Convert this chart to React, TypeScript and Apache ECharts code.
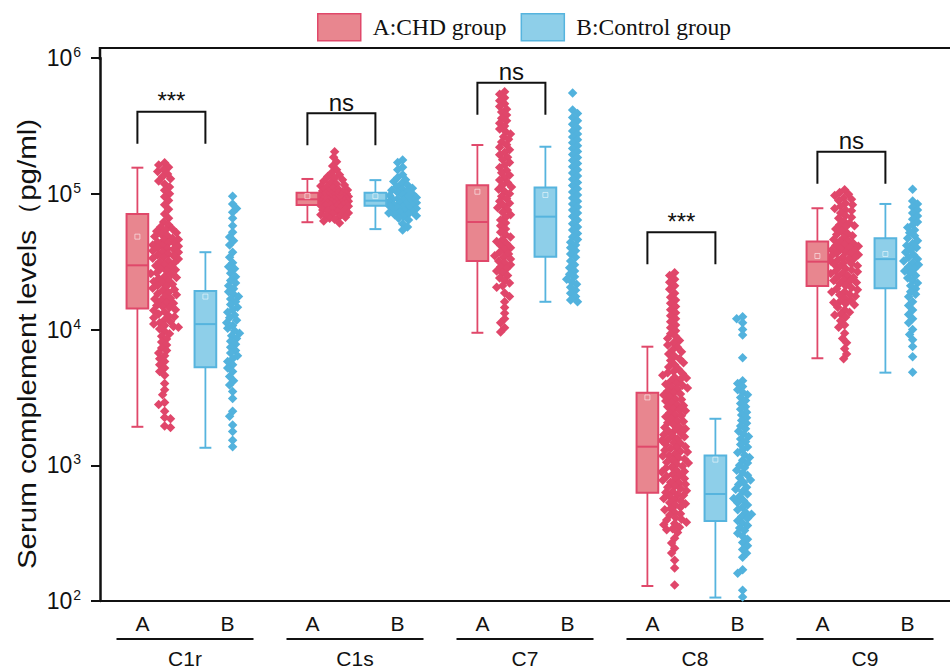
import React, { useEffect, useRef } from "react";
import * as echarts from "echarts";

// ---------- data ----------
const GROUPS = ["C1r", "C1s", "C7", "C8", "C9"];
const MEMBERS = ["A", "B"];
const SERIES_NAMES = ["A:CHD group", "B:Control group"];
const Y_TITLE = "Serum complement levels（pg/ml)";
const SIG_LABELS = ["***", "ns", "ns", "***", "ns"];
const SIG_Y = [402000, 391000, 658000, 52000, 204000];

// [low whisker, Q1, median, Q3, high whisker, mean]
const BOX_A = [
  [1920, 14300, 29700, 71000, 155600, 48300],
  [61700, 82600, 91000, 101900, 128500, 96100],
  [9460, 32000, 61900, 115400, 228500, 103500],
  [129, 628, 1370, 3420, 7470, 3160],
  [6140, 20900, 31600, 44400, 78200, 34800],
];
const BOX_B = [
  [1345, 5270, 10960, 19200, 37100, 17470],
  [54900, 81600, 88900, 101900, 126000, 96000],
  [16000, 34400, 67800, 111000, 222000, 98000],
  [106, 388, 614, 1178, 2200, 1100],
  [4810, 20100, 33000, 47000, 84100, 36000],
];

const C1R_A = [
  169000, 163000, 157000, 151000, 146000, 140000, 134000, 129000, 124000, 118000, 112000, 106000, 100000, 95000, 89000, 83000, 77000, 71000, 66000, 62000,
  59000, 57000, 55000, 54000, 53000, 51500, 50000, 49000, 48500, 47000, 46000, 45500, 44000, 43500, 43000, 42000, 41500, 41000, 40000, 39500, 39000, 38000, 37500, 37000, 36000, 35500, 35000, 34000, 33500, 33000, 32000, 31500, 31000, 30000, 29500, 29000, 28000, 27500, 27000, 26200, 25800, 25400, 24600, 24200, 23800, 23000, 22600, 22200, 21500, 21000, 20800, 20100, 19700, 19400, 18700, 18300, 18000, 17400, 17000, 16800, 16200, 15800, 15600, 15000, 14800, 14500, 14000, 13800, 13500, 13000, 12600, 12400, 12200, 11800, 11400, 11200, 11000, 10700, 10500, 10400, 10100,
  9700, 9300, 8900, 8500, 8100, 7700, 7300, 7000, 6700, 6400, 6100, 5800, 5500, 5200, 4900, 4600,
  4000, 3600, 3300, 2900, 2800, 2500, 2250, 2200, 1950, 1900,
];
const C1R_B = [
  96000, 84000, 78000, 73000, 66000, 58000, 52000, 48000, 45000, 42000, 37000, 34000, 31000, 29000, 28000, 26000, 24500, 23000, 22000, 21000,
  20000, 19000, 18200, 17500, 16800, 16000, 15300, 14600, 14000, 13400, 12800, 12200, 11700, 11200, 10700, 10200, 9800, 9400, 9000, 8600,
  8200, 7800, 7400, 7000, 6700, 6400, 6100, 5800, 5500, 5200, 4900, 4500, 4200, 3900, 3500, 3100, 2500, 2300, 1980, 1770, 1530, 1370,
];
const C1S_A = [
  204000, 186000, 172000, 160000, 150000, 143000, 138000, 134000, 130000, 127000, 124000, 121000, 118000, 116000, 114000, 112000, 110000, 108000, 106500, 105000,
  104000, 103500, 102000, 101500, 101000, 100000, 99500, 99000, 98000, 97500, 97000, 96500, 96000, 95500, 95000, 94500, 94000, 93500, 93000, 92500,
  92000, 91500, 91000, 90500, 90000, 89500, 89000, 88500, 88000, 87500, 87000, 86500, 86000, 85500, 85000, 84500, 84000, 83500, 83000, 82500,
  82000, 81500, 81000, 80000, 79000, 78000, 77000, 76000, 75000, 74000, 73000, 72000, 71000, 70000, 69000, 68000, 67000, 66000, 65000, 63000, 61000,
];
const C1S_B = [
  177000, 170000, 157000, 150000, 138000, 132000, 127000, 123000, 119000, 116000, 113000, 110000, 108000, 106000, 104000, 102000, 100000, 98000, 97000, 95000,
  94000, 92000, 91000, 90000, 88000, 87000, 86000, 85000, 84000, 83000, 82000, 81000, 80000, 79000, 78000, 77000, 76000, 75000, 74000, 73000,
  72000, 71000, 70000, 69000, 68000, 66000, 64000, 60000, 57000, 54000,
];
const C7_A = [
  565000, 540000, 510000, 485000, 460000, 440000, 420000, 400000, 380000, 360000, 345000, 330000, 315000, 300000, 287000, 275000, 263000, 252000, 241000, 230000,
  220000, 211000, 202000, 194000, 186000, 178000, 170000, 163000, 156000, 149000, 143000,
  137000, 131000, 126000, 121000, 116000, 112000, 108000, 104000, 100000, 96000, 92000, 88000, 85000, 82000, 79000, 76000, 73000, 70000, 67000, 64000, 61000, 58000, 55000, 52000,
  50000, 48000, 46000, 44500, 43000, 41500, 40000, 38500, 37000, 36000, 35000, 34000, 33000, 32000, 31000, 30000, 29000, 28000, 27000, 26000, 25000, 24000, 23000, 22000, 21000, 20500,
  18600, 17500, 16000, 14500, 13200, 12000, 11200, 10300, 9600,
];
const C7_B = [
  552000, 414000, 390000, 365000, 345000, 325000, 305000, 290000, 275000, 262000, 250000, 238000, 226000, 215000, 205000, 195000, 185000, 176000, 167000, 158000,
  150000, 142000, 135000, 128000, 121000, 115000, 109000, 103000, 98000, 93000, 88000, 84000, 80000, 76000, 72000, 68000, 64000, 60000, 57000, 54000,
  51000, 48000, 46000, 44000, 42000, 40000, 38000, 36000, 34000, 32000, 30000, 28500, 27000, 25500, 24500, 23500, 22500, 21500, 20500, 19500, 18500, 17500, 16500, 16000,
];
const C8_A = [
  26200, 25000, 23500, 22300, 21000, 19800, 18500, 17300, 16500, 15600, 14800, 14000, 13300, 12600, 12000, 11400, 10800, 10300, 9800, 9300,
  8900, 8600, 8300, 8000, 7700, 7400, 7100, 6850, 6600, 6350, 6100, 5900, 5700, 5500, 5300, 5100, 4900, 4800, 4750, 4600, 4450, 4400, 4300, 4150, 4000, 3950,
  3880, 3760, 3700, 3640, 3520, 3400, 3350, 3290, 3180, 3080, 3050, 2980, 2880, 2790, 2750, 2700, 2610, 2550, 2520, 2440, 2360, 2320, 2280, 2200, 2130, 2100,
  2060, 1990, 1920, 1900, 1860, 1800, 1780, 1740, 1680, 1650, 1620, 1570, 1550, 1520, 1470, 1450, 1420, 1370, 1350, 1330, 1290, 1260, 1250, 1210, 1180, 1170,
  1130, 1110, 1090, 1050, 1040, 1020, 985, 970, 950, 920, 900, 890, 860, 845, 830, 800, 790, 775, 750, 740, 725, 700, 690, 675, 650, 640, 630, 610, 600,
  590, 570, 560, 550, 530, 520, 510, 490, 480, 470, 450, 440, 430, 410, 400, 395, 380, 372, 365, 350, 340, 335, 320,
  290, 267, 245, 226, 200, 175, 131,
];
const C8_B = [
  12400, 12000, 11200, 10000, 9100, 6200, 4200, 4000, 3800, 3600, 3450, 3300, 3150, 3000, 2850, 2700, 2580, 2460, 2350, 2240,
  2140, 2040, 1950, 1860, 1780, 1700, 1630, 1560, 1490, 1420, 1360, 1300, 1240, 1190, 1140, 1090, 1040, 1000, 960, 920,
  880, 845, 810, 780, 750, 720, 690, 665, 640, 615, 590, 570, 550, 530, 510, 490, 470, 450, 435, 420,
  405, 390, 375, 360, 345, 330, 315, 300, 285, 270, 255, 240, 225, 210, 170, 160, 120, 107,
];
const C9_A = [
  107000, 102000, 99000, 97000, 93000, 91000, 89000, 85000, 83000, 81000, 78000, 76000, 75000, 72000, 69000, 67000, 66000, 63000, 61000, 59000,
  58000, 57000, 55000, 53000, 51000, 50000, 49000, 47500, 46000, 45000, 44500, 43000, 42000, 41500, 41000, 40000, 39000, 38500, 38000, 37000,
  36500, 36000, 35500, 35000, 34000, 33500, 33000, 32500, 32000, 31000, 30500, 30000, 29500, 29000, 28200, 27400, 27000, 26600, 26000, 25800,
  25000, 24600, 24200, 23400, 23000, 22600, 22200, 21800, 21000, 20300, 20000, 19600, 19000, 18900, 18200, 18000, 17600, 17000, 16400, 16000,
  15800, 15500, 15200, 14600, 14000, 13400, 13000, 12800, 12300, 11600, 10800, 10400, 9400, 8600, 8000, 7200, 6600, 6100,
];
const C9_B = [
  108000, 88600, 84000, 80000, 76000, 72000, 68500, 65000, 62000, 59000, 56500, 54000, 51500, 49000, 47000, 45000, 43000, 41500, 40000, 38500,
  37000, 35500, 34000, 33000, 32000, 31000, 30000, 29000, 28000, 27000, 26000, 25000, 24000, 23000, 22000, 21000, 20000, 19000, 18200, 17400,
  16000, 15000, 13900, 12900, 12000, 11200, 10000, 9200, 8400, 7500, 6300, 4850,
];

const POINTS = [
  [C1R_A, C1S_A, C7_A, C8_A, C9_A],
  [C1R_B, C1S_B, C7_B, C8_B, C9_B],
];
const BOXES = [BOX_A, BOX_B];

// ---------- layout / style ----------
const SANS = 'Arial, "Liberation Sans", Helvetica, sans-serif';
const SERIF = '"Times New Roman", "Liberation Serif", serif';
const INK = "#111111";
const COLORS = [
  { fill: "#e8868f", line: "#e0486a", dot: "#e0466a" },
  { fill: "#8ecfe9", line: "#56b4de", dot: "#52b2dd" },
];
const MEMBER_OFF = [-0.06, 0.74];
const SCATTER_SHIFT = 0.32;
const BOX_W = 0.255;
const CAP_W = 0.14;
const PX_PER_UNIT = 86.2;
const PX_PER_DECADE = 135.75;
const BRACKET_LEG = 32;

function swarm(values: number[], center: number): number[][] {
  const D = 5.5;
  const MAXOFF = 14;
  const pts = values
    .map((v) => ({ v, y: Math.log10(v) * PX_PER_DECADE }))
    .sort((a, b) => b.y - a.y);
  const placed: { x: number; y: number }[] = [];
  const out: number[][] = [];
  pts.forEach((p, i) => {
    const cands = [0];
    for (let k = 1; k <= MAXOFF; k++) {
      if (i % 2) cands.push(-k, k);
      else cands.push(k, -k);
    }
    let best = 0;
    let bestScore = -1;
    for (const c of cands) {
      let minD = Infinity;
      for (let j = placed.length - 1; j >= 0; j--) {
        const q = placed[j];
        if (q.y - p.y > D) break;
        const d = Math.hypot(q.x - c, q.y - p.y);
        if (d < minD) minD = d;
      }
      if (minD >= D) {
        best = c;
        bestScore = Infinity;
        break;
      }
      if (minD > bestScore) {
        bestScore = minD;
        best = c;
      }
    }
    placed.push({ x: best, y: p.y });
    out.push([center + best / PX_PER_UNIT, p.v]);
  });
  return out;
}

const makeBoxRender = (m: number) => (params: any, api: any) => {
  const x = api.value(0);
  const low = api.value(1);
  const q1 = api.value(2);
  const med = api.value(3);
  const q3 = api.value(4);
  const high = api.value(5);
  const mean = api.value(6);
  const c = api.coord;
  const cx = c([x, med])[0];
  const hw = c([x + BOX_W / 2, med])[0] - cx;
  const cw = c([x + CAP_W / 2, med])[0] - cx;
  const yLow = c([x, low])[1];
  const yQ1 = c([x, q1])[1];
  const yMed = c([x, med])[1];
  const yQ3 = c([x, q3])[1];
  const yHigh = c([x, high])[1];
  const yMean = c([x, mean])[1];
  const col = COLORS[m];
  return {
    type: "group",
    children: [
      { type: "line", shape: { x1: cx, y1: yHigh, x2: cx, y2: yLow }, style: { stroke: col.line, lineWidth: 1.8 } },
      { type: "line", shape: { x1: cx - cw, y1: yHigh, x2: cx + cw, y2: yHigh }, style: { stroke: col.line, lineWidth: 2 } },
      { type: "line", shape: { x1: cx - cw, y1: yLow, x2: cx + cw, y2: yLow }, style: { stroke: col.line, lineWidth: 2 } },
      {
        type: "rect",
        shape: { x: cx - hw, y: yQ3, width: 2 * hw, height: yQ1 - yQ3 },
        style: { fill: col.fill, stroke: col.line, lineWidth: 2 },
      },
      { type: "line", shape: { x1: cx - hw, y1: yMed, x2: cx + hw, y2: yMed }, style: { stroke: col.line, lineWidth: 2 } },
      {
        type: "rect",
        shape: { x: cx - 2.5, y: yMean - 2.5, width: 5, height: 5 },
        style: { fill: "none", stroke: "rgba(255,255,255,0.55)", lineWidth: 1 },
      },
    ],
  };
};

const bracketRender = (params: any, api: any) => {
  const g = params.dataIndex;
  const y = api.value(2);
  const p1 = api.coord([api.value(0), y]);
  const p2 = api.coord([api.value(1), y]);
  return {
    type: "group",
    children: [
      {
        type: "polyline",
        shape: {
          points: [
            [p1[0], p1[1] + BRACKET_LEG],
            [p1[0], p1[1]],
            [p2[0], p2[1]],
            [p2[0], p2[1] + BRACKET_LEG],
          ],
        },
        style: { stroke: INK, lineWidth: 2, fill: null },
      },
      {
        type: "text",
        style: {
          x: (p1[0] + p2[0]) / 2,
          y: p1[1] + 1,
          text: SIG_LABELS[g],
          fill: INK,
          fontSize: 24,
          fontFamily: SANS,
          align: "center",
          verticalAlign: "bottom",
        },
      },
    ],
  };
};

export default function App() {
  const ref = useRef<HTMLDivElement>(null);

  useEffect(() => {
    if (!ref.current) return;
    const chart = echarts.init(ref.current, undefined, { renderer: "svg" });

    const categoryData = GROUPS.flatMap((g) => MEMBERS.map((m) => g + " " + m));

    const boxSeries = [0, 1].map((m) => ({
      type: "custom",
      name: SERIES_NAMES[m],
      xAxisIndex: 1,
      z: 3,
      silent: true,
      encode: { x: 0, y: [1, 2, 3, 4, 5] },
      renderItem: makeBoxRender(m),
      data: BOXES[m].map((s, g) => [2 * g + MEMBER_OFF[m], ...s]),
    }));

    const scatterSeries = [0, 1].map((m) => ({
      type: "scatter",
      name: SERIES_NAMES[m],
      xAxisIndex: 1,
      z: 2,
      silent: true,
      symbol: "diamond",
      symbolSize: 9.5,
      itemStyle: { color: COLORS[m].dot, opacity: 1 },
      data: POINTS[m].flatMap((vals, g) => swarm(vals, 2 * g + MEMBER_OFF[m] + SCATTER_SHIFT)),
    }));

    const bracketSeries = {
      type: "custom",
      name: "sig",
      xAxisIndex: 1,
      z: 4,
      silent: true,
      encode: { x: [0, 1], y: 2 },
      renderItem: bracketRender,
      data: SIG_Y.map((y, g) => [2 * g + MEMBER_OFF[0], 2 * g + MEMBER_OFF[1], y]),
    };

    chart.setOption({
      animation: false,
      backgroundColor: "#ffffff",
      grid: { left: 100, right: -12, top: 58, bottom: 68, containLabel: false },
      legend: {
        left: 317,
        top: 13,
        padding: 0,
        itemWidth: 43,
        itemHeight: 27,
        itemGap: 14,
        selectedMode: false,
        icon: "rect",
        data: SERIES_NAMES.map((n, m) => ({
          name: n,
          icon: "rect",
          itemStyle: { color: COLORS[m].fill, borderColor: COLORS[m].line, borderWidth: 1.5 },
        })),
        textStyle: { fontFamily: SERIF, fontSize: 23.5, color: INK, padding: [0, 0, 0, 7] },
      },
      xAxis: [
        {
          type: "category",
          data: categoryData,
          position: "bottom",
          axisLine: { show: true, onZero: false, lineStyle: { color: INK, width: 2 } },
          axisTick: { show: false },
          splitLine: { show: false },
          axisLabel: {
            interval: 0,
            margin: 12,
            fontSize: 21,
            fontFamily: SANS,
            color: INK,
            formatter: (v: string) => v.split(" ")[1],
          },
        },
        { type: "value", min: -0.5, max: 9.5, show: false },
      ],
      yAxis: {
        type: "log",
        logBase: 10,
        min: 100,
        max: 1000000,
        axisLine: { show: true, onZero: false, lineStyle: { color: INK, width: 2.5 } },
        axisTick: { show: true, length: 9, lineStyle: { color: INK, width: 2 } },
        splitLine: { show: false },
        minorTick: { show: false },
        axisLabel: {
          margin: 19,
          fontSize: 23,
          fontFamily: SANS,
          color: INK,
          formatter: (v: number) => "{b|10}{s|" + Math.round(Math.log10(v)) + "}",
          rich: {
            b: { fontSize: 23, fontFamily: SANS, color: INK },
            s: { fontSize: 14, fontFamily: SANS, color: INK, padding: [0, 0, 12, 1] },
          },
        },
      },
      series: [...scatterSeries, ...boxSeries, bracketSeries],
    });

    const toX = (v: number) => chart.convertToPixel({ xAxisIndex: 1 }, v) as number;
    const graphics: any[] = [
      { type: "line", silent: true, shape: { x1: 99, y1: 48, x2: 950, y2: 48 }, style: { stroke: INK, lineWidth: 2 } },
      { type: "line", silent: true, shape: { x1: 100, y1: 47, x2: 100, y2: 60 }, style: { stroke: INK, lineWidth: 2.5 } },
      {
        type: "text",
        silent: true,
        x: 27,
        y: 344,
        rotation: Math.PI / 2,
        scaleX: 1.18,
        style: { text: Y_TITLE, align: "center", verticalAlign: "middle", fontSize: 25, fontFamily: SANS, fill: INK },
      },
    ];
    GROUPS.forEach((name, g) => {
      const cx = toX(2 * g + 0.5);
      graphics.push({
        type: "line",
        silent: true,
        shape: { x1: cx - 68.5, y1: 639, x2: cx + 68.5, y2: 639 },
        style: { stroke: INK, lineWidth: 2 },
      });
      graphics.push({
        type: "text",
        silent: true,
        x: cx,
        y: 658,
        style: { text: name, align: "center", verticalAlign: "middle", fontSize: 21, fontFamily: SANS, fill: INK },
      });
    });
    chart.setOption({ graphic: graphics });

    return () => chart.dispose();
  }, []);

  return (
    <div
      ref={ref}
      style={{ position: "fixed", left: 0, top: 0, width: 950, height: 669, background: "#fff" }}
    />
  );
}
